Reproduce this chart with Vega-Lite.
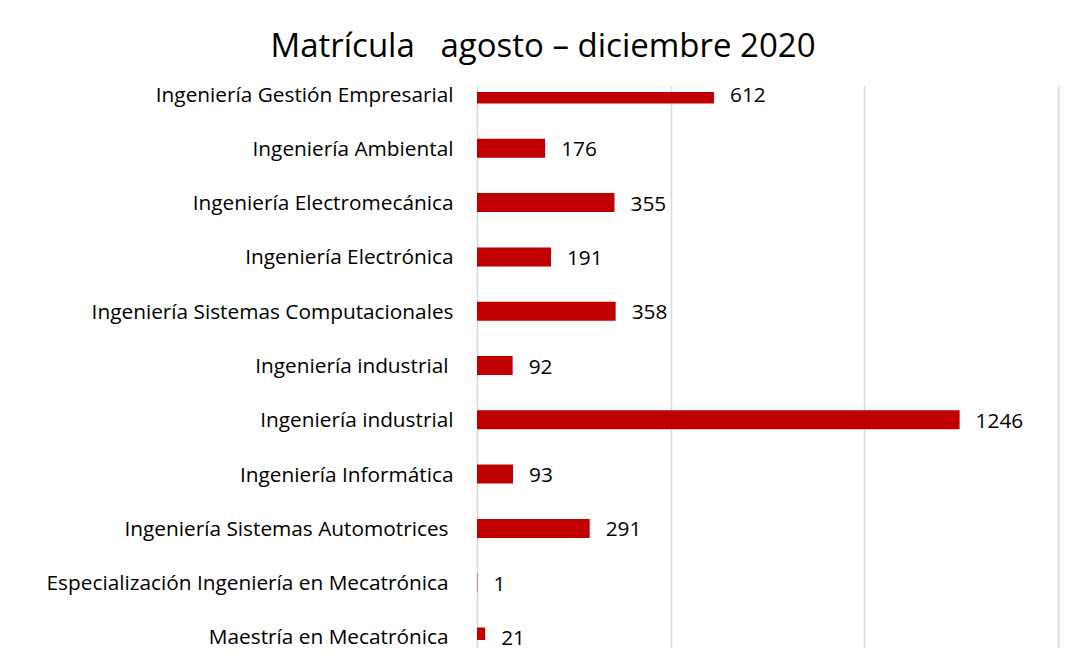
{
  "$schema": "https://vega.github.io/schema/vega-lite/v6.json",
  "autosize": {"type": "none"},
  "padding": {"left": 477, "top": 92, "right": 11, "bottom": 24},
  "width": 581,
  "height": 548,
  "background": "white",
  "title": {
    "text": "Matrícula\u00a0\u00a0\u00a0agosto – diciembre 2020",
    "font": "Open Sans",
    "fontSize": 33,
    "fontWeight": "normal",
    "color": "#000000",
    "anchor": "middle",
    "frame": "bounds",
    "offset": 20,
    "dx": -9
  },
  "config": {
    "view": {"stroke": null},
    "font": "Open Sans"
  },
  "data": {
    "values": [
      {"programa": "Ingeniería Gestión Empresarial", "matricula": 612},
      {"programa": "Ingeniería Ambiental", "matricula": 176},
      {"programa": "Ingeniería Electromecánica", "matricula": 355},
      {"programa": "Ingeniería Electrónica", "matricula": 191},
      {"programa": "Ingeniería Sistemas Computacionales", "matricula": 358},
      {"programa": "Ingeniería industrial ", "matricula": 92},
      {"programa": "Ingeniería industrial", "matricula": 1246},
      {"programa": "Ingeniería Informática", "matricula": 93},
      {"programa": "Ingeniería Sistemas Automotrices ", "matricula": 291},
      {"programa": "Especialización Ingeniería en Mecatrónica ", "matricula": 1},
      {"programa": "Maestría en Mecatrónica ", "matricula": 21}
    ]
  },
  "encoding": {
    "y": {
      "field": "programa",
      "type": "nominal",
      "sort": null,
      "scale": {"range": [-7.5, 554.5], "paddingInner": 0.65, "paddingOuter": 0},
      "axis": {
        "title": null,
        "domain": false,
        "ticks": false,
        "tickSize": 0,
        "labelPadding": {"condition": {"test": "test(/ $/, datum.value)", "value": 29}, "value": 24},
        "labelOffset": 1.5,
        "labelFont": "Open Sans",
        "labelFontSize": 20.8,
        "labelColor": "#000000",
        "labelLimit": 600,
        "grid": false
      }
    },
    "x": {
      "field": "matricula",
      "type": "quantitative",
      "scale": {"domain": [0, 1500], "nice": false},
      "axis": {
        "title": null,
        "values": [0, 500, 1000, 1500],
        "labels": false,
        "ticks": false,
        "domain": false,
        "grid": true,
        "gridColor": "#d9d9d9",
        "gridWidth": 1.5
      }
    }
  },
  "layer": [
    {
      "mark": {"type": "bar", "color": "#C00000", "clip": true}
    },
    {
      "mark": {"type": "text", "align": "left", "baseline": "middle", "dx": 16, "dy": 2, "fontSize": 20.8, "font": "Open Sans", "color": "#000000"},
      "encoding": {"text": {"field": "matricula", "type": "quantitative"}}
    }
  ]
}
